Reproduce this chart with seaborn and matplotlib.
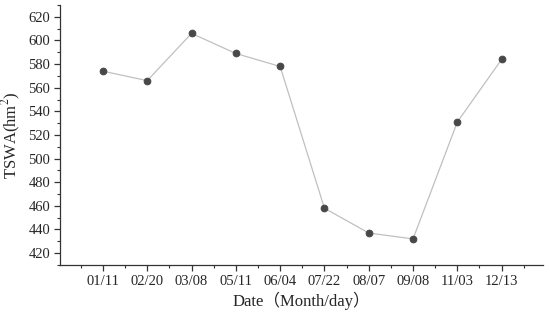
import pandas as pd
import seaborn as sns
import matplotlib.pyplot as plt
from matplotlib.ticker import MultipleLocator

dates = ['01/11', '02/20', '03/08', '05/11', '06/04', '07/22', '08/07', '09/08', '11/03', '12/13']
tswa = [574, 566, 606, 589, 578, 458, 437, 432, 531, 584]

df = pd.DataFrame({'pos': range(len(dates)), 'tswa': tswa})

sns.set_style('ticks')
plt.rcParams['font.family'] = ['Liberation Serif', 'Noto Sans CJK SC']
plt.rcParams['mathtext.fontset'] = 'stix'

fig = plt.figure(figsize=(5.5, 3.15), dpi=100)
ax = fig.add_axes([0.109, 0.159, 0.878, 0.825])

sns.lineplot(data=df, x='pos', y='tswa', ax=ax, color='#c0c0c0', linewidth=0.9,
             marker='o', markersize=4.8, markerfacecolor='#484848', markeredgecolor='#484848')

ax.set_xlim(-0.97, 9.93)
ax.set_ylim(410, 630)
ax.set_xticks(range(len(dates)))
ax.set_xticklabels(dates)
ax.xaxis.set_minor_locator(MultipleLocator(0.5))
ax.yaxis.set_major_locator(MultipleLocator(20))
ax.yaxis.set_minor_locator(MultipleLocator(10))

for s in ['top', 'right']:
    ax.spines[s].set_visible(False)
for s in ['left', 'bottom']:
    ax.spines[s].set_color('#333333')
    ax.spines[s].set_linewidth(0.9)

ax.tick_params(which='major', length=4, width=0.9, color='#333333', labelsize=10.5, pad=3)
ax.tick_params(which='minor', length=2.5, width=0.8, color='#333333')

ax.set_xlabel('Date（Month/day）', fontsize=12, labelpad=3)
ax.set_ylabel('TSWA(hm$^2$)', fontsize=12, labelpad=4)

fig.savefig('out.png', dpi=100)
